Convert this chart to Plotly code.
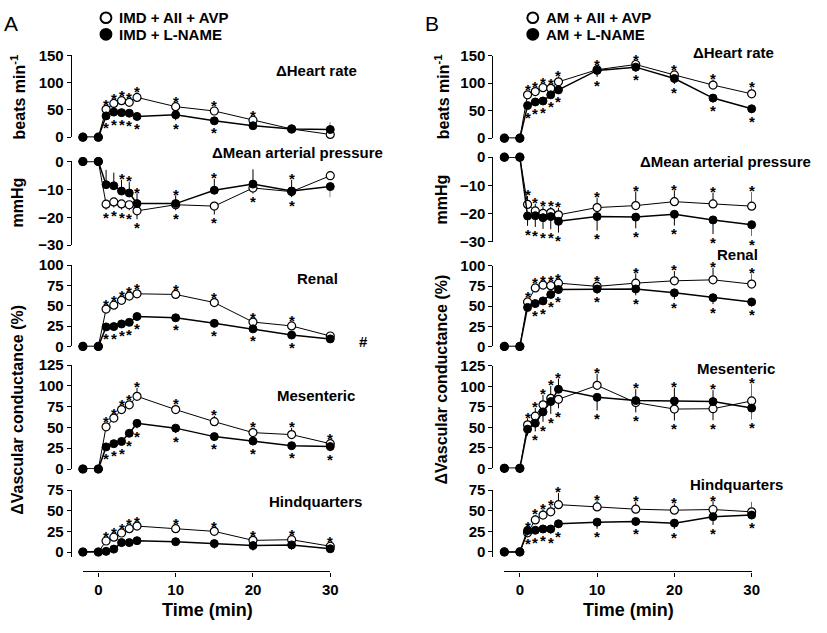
import plotly.graph_objects as go

W, H = 827, 633
FONT = "Arial, Liberation Sans, sans-serif"

# ---------------- data ----------------
time_min = [-2, 0, 1, 2, 3, 4, 5, 10, 15, 20, 25, 30]
x_tickvals = [0, 10, 20, 30]

# signed error: + = bar drawn upward, - = bar drawn downward
# significance: 'u' star above, 'd' star below, '.' none

# Panel A (IMD)
a_hr_o = [0, 0, 51, 62, 67, 64, 73, 56, 48, 31, 15, 5]
a_hr_o_err = [0, 0, 3, 3, 3, 3, 9, 6, 8, 7, 0, 0]
a_hr_o_sig = "..uuuuuuuu.."
a_hr_f = [0, 0, 39, 46, 45, 44, 38, 41, 30, 21, 15, 14]
a_hr_f_err = [0, 0, -4, -4, -4, -4, -4, -10, -7, -5, 8, 14]
a_hr_f_sig = "..ddddddd..."

a_map_o = [0, 0, -15.3, -14.5, -15.2, -15.5, -17.7, -15.5, -16, -9.5, -10.8, -5.1]
a_map_o_err = [0, 0, -2, -2, -2, -2, -3, -2, -3, -2, -2, 0]
a_map_o_sig = "..ddddddddd."
a_map_f = [0, 0, -8.3, -8.7, -10.6, -11.3, -15.1, -15.1, -10.3, -8.1, -10.6, -9]
a_map_f_err = [0, 0, 5.3, 4.7, 4, 4, 3.7, 3, 4, 5.3, 4, -3.8]
a_map_f_sig = "....uuuuu.u."

a_ren_o = [0, 0, 46, 50.8, 56.8, 62, 64.8, 64, 54, 30, 25.2, 12.8]
a_ren_o_err = [0, 0, 3, 3, 3, 3, 3, 4, 5, 3, 3, 2]
a_ren_o_sig = "..uuuuuuuuu."
a_ren_f = [0, 0, 24, 24.4, 27.6, 29.6, 36.8, 35.2, 28.4, 21.6, 14, 9.2]
a_ren_f_err = [0, 0, -3, -3, -3, -3, -3, -4, -4, -4, -4, -2]
a_ren_f_sig = "..ddddddddd."

a_mes_o = [0, 0, 50.8, 61.3, 71.5, 77.3, 87.5, 71.5, 57, 43.8, 41.4, 30.5]
a_mes_o_err = [0, 0, 3, 4, 4, 4, 10, 6, 7, 6, 8, 5]
a_mes_o_sig = "..uuuuuuuuuu"
a_mes_f = [0, 0, 26.6, 30.5, 33.2, 43, 55, 49.2, 39, 33.6, 28.1, 27]
a_mes_f_err = [0, 0, -4, -4, -3, -4, -6, -6, -5, -4, -5, -6]
a_mes_f_sig = "..dddddddddd"

a_hq_o = [0, 0, 13.3, 18, 23, 28.2, 31.4, 28.2, 25, 14.1, 14.9, 7]
a_hq_o_err = [0, 0, 3, 3, 3, 3, 3, 3, 4, 3, 4, 3]
a_hq_o_sig = "..uuuuuuuuuu"
a_hq_f = [0, 0, 0.8, 3.5, 11.4, 11.4, 13.7, 12.5, 10.2, 7.8, 8.6, 3.9]
a_hq_f_err = [0, 0, -5, -5, -5, -5, -5, -4, -6, -6, -6, -3]
a_hq_f_sig = "............"

# Panel B (AM)
b_hr_o = [0, 0, 78.8, 84.8, 91.9, 90.7, 102.5, 124.5, 134, 115, 96.6, 80.6]
b_hr_o_err = [0, 0, 3, 3, 3, 5, 10, 4, 5, 6, 10, 12]
b_hr_o_sig = "..uuuuuuuuuu"
b_hr_f = [0, 0, 59.3, 65.8, 67.6, 78.8, 87.7, 123.3, 129.2, 108.5, 72.9, 53.4]
b_hr_f_err = [0, 0, -5, -3, -3, -5, -5, -12, -8, -10, -8, -8]
b_hr_f_sig = "..dddddddddd"

b_map_o = [0, 0, -16.8, -19.1, -20, -19.7, -20.5, -17.9, -17.2, -15.8, -16.6, -17.4]
b_map_o_err = [0, 0, 3, 2.5, 2.5, 2, 2.5, 3.5, 5, 4, 4, 5]
b_map_o_sig = "..uuuuuuuuuu"
b_map_f = [0, 0, -20.9, -20.8, -21.5, -21.1, -22.8, -21.1, -21.3, -20.3, -22.3, -24]
b_map_f_err = [0, 0, -3.5, -4, -4, -4.5, -4, -5, -4, -4, -5, -4]
b_map_f_sig = "..dddddddddd"

b_ren_o = [0, 0, 55.2, 72.6, 76.2, 75.4, 78.6, 74.6, 78.6, 81.5, 82.7, 77.4]
b_ren_o_err = [0, 0, 3, 4, 4, 3, 4, 6, 12, 12, 15, 13]
b_ren_o_sig = "..uuuuuuuuuu"
b_ren_f = [0, 0, 48.4, 53.2, 56.5, 64.5, 70.6, 71.4, 71.4, 66.5, 60.5, 55.2]
b_ren_f_err = [0, 0, -3, -5, -5, -5, -5, -6, -8, -8, -8, -6]
b_ren_f_sig = "...ddddddddd"

b_mes_o = [0, 0, 53, 63.6, 77.5, 85.4, 84.2, 101.2, 80.2, 72.3, 72.7, 82.2]
b_mes_o_err = [0, 0, 8, 10, 12, 15, -11, 14, -12, -14, -14, 21]
b_mes_o_sig = "..uuuududddu"
b_mes_f = [0, 0, 47.8, 55, 68.8, 81.4, 96.4, 86.6, 82.6, 82.2, 81.4, 73.5]
b_mes_f_err = [0, 0, -8, -10, -12, -15, 13, -16, 14, 16, 14, -14]
b_mes_f_sig = "...ddduduuud"

b_hq_o = [0, 0, 23.1, 38.8, 44.7, 48.6, 57.3, 54.5, 51.8, 50.6, 51.4, 48.6]
b_hq_o_err = [0, 0, 6, 6, 7, 8, 14, 8, 9, 8, 10, 12]
b_hq_o_sig = "..uuuuuuuuu."
b_hq_f = [0, 0, 25.9, 26.3, 27.8, 27.8, 34.1, 36.1, 36.9, 34.9, 42.7, 44.7]
b_hq_f_err = [0, 0, -6, -3, -3, -6, -5, -8, -5, -7, -10, -5]
b_hq_f_sig = "..dddddddddd"

hr_ticks = [0, 50, 100, 150]
map_ticks = [0, -10, -20, -30]
ren_ticks = [0, 25, 50, 75, 100]
mes_ticks = [0, 25, 50, 75, 100, 125]
hq_ticks = [0, 25, 50, 75]

row_titles = ["\u0394Heart rate", "\u0394Mean arterial pressure", "Renal", "Mesenteric", "Hindquarters"]
legend_a = ["IMD + AII + AVP", "IMD + L-NAME"]
legend_b = ["AM + AII + AVP", "AM + L-NAME"]

# ---------------- geometry (pixels) ----------------
def px(xp):
    return xp / W


def py(yp):
    return 1 - yp / H


rows_common = [
    dict(ticks=hr_ticks, rng=[0, 150]),
    dict(ticks=map_ticks, rng=[-30, 0]),
    dict(ticks=ren_ticks, rng=[0, 100]),
    dict(ticks=mes_ticks, rng=[0, 125]),
    dict(ticks=hq_ticks, rng=[-6, 75]),
]

panel_geo = {
    "A": dict(yaxis_x=71.5, x0=83.7, x1=333.5,
              rows=[(47.7, 131.7), (156.7, 242.7), (263.3, 346.7), (366.0, 472.7), (494.3, 563.1)],
              title_pos=[(320, 63), (300, 147), (321, 277), (319, 397), (319, 506)]),
    "B": dict(yaxis_x=497.3, x0=509.3, x1=759.0,
              rows=[(48.0, 132.7), (152.3, 239.0), (264.0, 346.7), (366.7, 472.0), (494.3, 563.0)],
              title_pos=[(741, 45), (733, 157), (745, 252), (743, 369), (744, 489)]),
}

panel_data = {
    "A": [
        (a_hr_o, a_hr_o_err, a_hr_o_sig, a_hr_f, a_hr_f_err, a_hr_f_sig),
        (a_map_o, a_map_o_err, a_map_o_sig, a_map_f, a_map_f_err, a_map_f_sig),
        (a_ren_o, a_ren_o_err, a_ren_o_sig, a_ren_f, a_ren_f_err, a_ren_f_sig),
        (a_mes_o, a_mes_o_err, a_mes_o_sig, a_mes_f, a_mes_f_err, a_mes_f_sig),
        (a_hq_o, a_hq_o_err, a_hq_o_sig, a_hq_f, a_hq_f_err, a_hq_f_sig),
    ],
    "B": [
        (b_hr_o, b_hr_o_err, b_hr_o_sig, b_hr_f, b_hr_f_err, b_hr_f_sig),
        (b_map_o, b_map_o_err, b_map_o_sig, b_map_f, b_map_f_err, b_map_f_sig),
        (b_ren_o, b_ren_o_err, b_ren_o_sig, b_ren_f, b_ren_f_err, b_ren_f_sig),
        (b_mes_o, b_mes_o_err, b_mes_o_sig, b_mes_f, b_mes_f_err, b_mes_f_sig),
        (b_hq_o, b_hq_o_err, b_hq_o_sig, b_hq_f, b_hq_f_err, b_hq_f_sig),
    ],
}

MARKER = 8
R = MARKER / 2
GAP = 1.5
STAR_HALF = 3
STAR_CORR = 3.5
STAR_SIZE = 15
TICKFONT = dict(family=FONT, size=15, color="black", weight="bold")

fig = go.Figure()
layout = dict(
    width=W, height=H, margin=dict(l=0, r=0, t=0, b=0),
    paper_bgcolor="white", plot_bgcolor="rgba(0,0,0,0)",
    showlegend=False,
)
annotations = []


def err_arrays(err):
    up = [e if e > 0 else 0 for e in err]
    dn = [-e if e < 0 else 0 for e in err]
    return up, dn


def add_stars(xref, yref, vals, err, sig, scale):
    for t, v, e, s in zip(time_min, vals, err, sig):
        if s == ".":
            continue
        if s == "u":
            ext = e * scale if e > 0 else 0
            shift = max(ext, R) + GAP + STAR_HALF
            ys = shift - STAR_CORR
        else:
            ext = -e * scale if e < 0 else 0
            shift = max(ext, R) + GAP + STAR_HALF
            ys = -shift - STAR_CORR
        annotations.append(dict(
            x=t, y=v, xref=xref, yref=yref, text="*", showarrow=False,
            yanchor="middle", xanchor="center", yshift=ys,
            font=dict(family=FONT, size=STAR_SIZE, color="black", weight="bold"),
        ))


def paper_text(xc, yc, text, font, angle=0, xanchor="center"):
    annotations.append(dict(x=px(xc), y=py(yc), xref="paper", yref="paper", text=text,
                            showarrow=False, xanchor=xanchor, yanchor="middle",
                            textangle=angle, font=font))


axis_idx = 0
for pi, pname in enumerate(["A", "B"]):
    geo = panel_geo[pname]
    xname = "x" if pi == 0 else "x2"
    xkey = "xaxis" if pi == 0 else "xaxis2"
    layout[xkey] = dict(
        domain=[px(geo["x0"]), px(geo["x1"])], range=[-2, 30],
        anchor="free", position=py(578),
        showline=True, linecolor="black", linewidth=1.3,
        ticks="outside", ticklen=4, tickwidth=1.3, tickcolor="black",
        tickvals=x_tickvals, tickfont=TICKFONT,
        showgrid=False, zeroline=False,
    )
    for ri, (top, bot) in enumerate(geo["rows"]):
        axis_idx += 1
        yname = "y" if axis_idx == 1 else f"y{axis_idx}"
        ykey = "yaxis" if axis_idx == 1 else f"yaxis{axis_idx}"
        rc = rows_common[ri]
        layout[ykey] = dict(
            domain=[py(bot), py(top)], range=rc["rng"],
            anchor="free", position=px(geo["yaxis_x"]),
            showline=True, linecolor="black", linewidth=1.3,
            ticks="outside", ticklen=4, tickwidth=1.3, tickcolor="black",
            tickvals=rc["ticks"], tickfont=TICKFONT,
            showgrid=False, zeroline=False,
        )
        scale = (bot - top) / (rc["rng"][1] - rc["rng"][0])
        o, oe, osig, f, fe, fsig = panel_data[pname][ri]
        ou, od = err_arrays(oe)
        fu, fd = err_arrays(fe)
        fig.add_trace(go.Scatter(
            x=time_min, y=o, xaxis=xname, yaxis=yname, mode="lines+markers",
            line=dict(color="black", width=1),
            marker=dict(symbol="circle", size=MARKER, color="white", line=dict(color="black", width=1.2)),
            error_y=dict(type="data", symmetric=False, array=ou, arrayminus=od,
                         thickness=1, width=0, color="black"),
            cliponaxis=False, hoverinfo="skip",
        ))
        fig.add_trace(go.Scatter(
            x=time_min, y=f, xaxis=xname, yaxis=yname, mode="lines+markers",
            line=dict(color="black", width=1.5),
            marker=dict(symbol="circle", size=MARKER, color="black", line=dict(color="black", width=1)),
            error_y=dict(type="data", symmetric=False, array=fu, arrayminus=fd,
                         thickness=1, width=0, color="black"),
            cliponaxis=False, hoverinfo="skip",
        ))
        add_stars(xname, yname, o, oe, osig, scale)
        add_stars(xname, yname, f, fe, fsig, scale)
        tx, ty = geo["title_pos"][ri]
        paper_text(tx, ty, row_titles[ri], dict(family=FONT, size=15, color="black", weight="bold"))

BOLD16 = dict(family=FONT, size=16, color="black", weight="bold")

# y-axis titles
for xc, (hr_c, map_c, vc_c) in [(18, (90, 199, 412)), (446, (90, 196, 381))]:
    paper_text(xc, hr_c, "beats min<sup>-1</sup>", BOLD16, angle=-90)
    paper_text(xc, map_c, "mmHg", BOLD16, angle=-90)
    paper_text(xc, vc_c, "\u0394Vascular conductance (%)", BOLD16, angle=-90)

# x-axis titles
for xc in (210, 635):
    paper_text(xc, 618, "Time (min)", dict(family=FONT, size=18, color="black", weight="bold"))

# panel letters
for lab, xc in (("A", 11), ("B", 436)):
    paper_text(xc, 15, lab, dict(family=FONT, size=21, color="black"))

# '#' marker next to panel A renal
paper_text(367, 342, "#", dict(family=FONT, size=15, color="black", weight="bold"))

# legends
shapes = []
for cx, texts in ((107, legend_a), (538, legend_b)):
    for k, (cy, txt) in enumerate(zip((9, 26), texts)):
        r = 5.5
        shapes.append(dict(type="circle", xref="paper", yref="paper",
                           x0=px(cx - r), x1=px(cx + r), y0=py(cy + r), y1=py(cy - r),
                           line=dict(color="black", width=2),
                           fillcolor="white" if k == 0 else "black"))
        paper_text(cx + 11, cy, txt, dict(family=FONT, size=15, color="black", weight="bold"),
                   xanchor="left")

layout["annotations"] = annotations
layout["shapes"] = shapes
fig.update_layout(**layout)
fig.write_html("out.html", config={"displayModeBar": False},
               post_script="document.body.style.margin='0px';")
